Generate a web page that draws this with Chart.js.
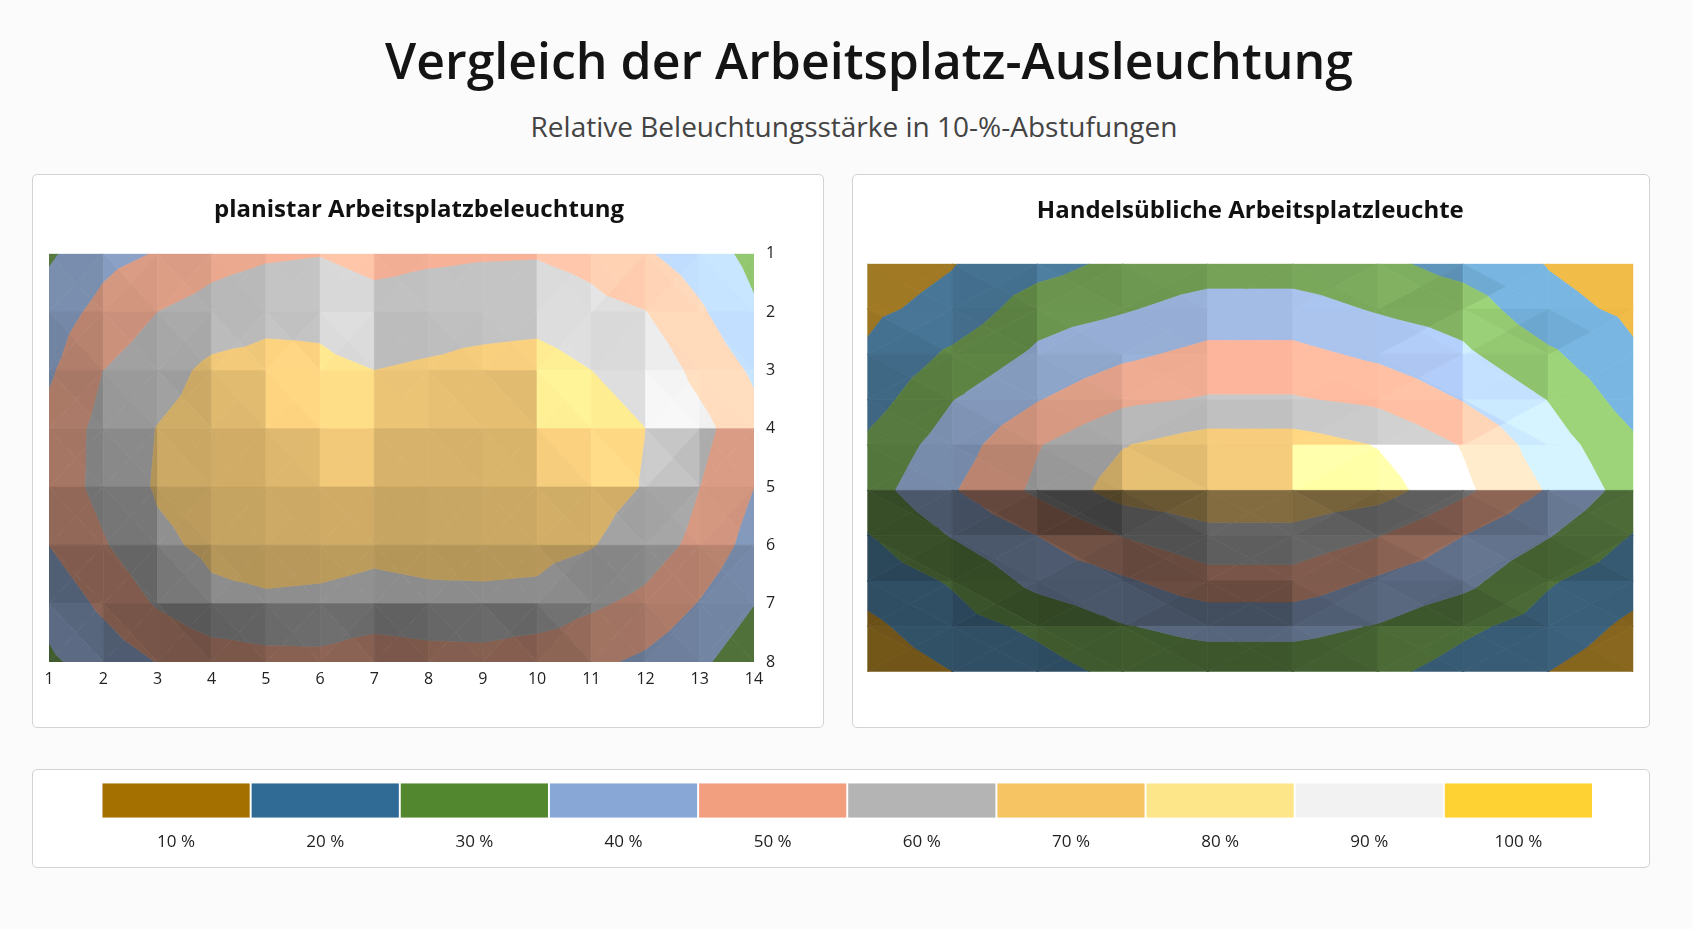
<!DOCTYPE html>
<html lang="de">
<head>
<meta charset="utf-8">
<title>Vergleich der Arbeitsplatz-Ausleuchtung</title>
<script src="https://cdn.jsdelivr.net/npm/chart.js@4.4.1/dist/chart.umd.min.js"></script>
<style>
  html, body { margin: 0; padding: 0; background: #fbfbfb; }
  body { width: 1693px; height: 929px; position: relative; overflow: hidden; font-family: "Open Sans", sans-serif; }
  .head { position: absolute; white-space: nowrap; transform: translateX(-50%); line-height: 1; }
  #mainTitle { left: 869px; top: 35px; font-size: 50px; font-weight: 600; color: #141414; }
  #subTitle { left: 854px; top: 112px; font-size: 28px; font-weight: 400; color: #444; }
  .panel { position: absolute; background: #fff; border: 1.5px solid #d3d3d3; border-radius: 5px; box-sizing: border-box; }
  canvas { position: absolute; }
</style>
</head>
<body>
<div id="mainTitle" class="head">Vergleich der Arbeitsplatz-Ausleuchtung</div>
<div id="subTitle" class="head">Relative Beleuchtungsstärke in 10-%-Abstufungen</div>

<div class="panel" style="left:32px; top:174px; width:792px; height:554px;"></div>
<div class="panel" style="left:852px; top:174px; width:798px; height:554px;"></div>
<div class="panel" style="left:32px; top:769px; width:1618px; height:99px;"></div>

<canvas id="planistar" width="792" height="554" style="left:32px; top:174px;"></canvas>
<canvas id="handel" width="798" height="554" style="left:852px; top:174px;"></canvas>
<canvas id="legend" width="1618" height="99" style="left:32px; top:769px;"></canvas>

<script>
// bands, 10 % steps
const bandLabels = ['10 %', '20 %', '30 %', '40 %', '50 %', '60 %', '70 %', '80 %', '90 %', '100 %'];
const bandColors = ['#a47000', '#2f6b95', '#52872f', '#88a6d6', '#f29f80', '#b4b4b4', '#f6c462', '#fde68a', '#f2f2f2', '#fdd232'];

// planistar: 14 measuring points across, 8 rows
const planistarX = [1, 2, 3, 4, 5, 6, 7, 8, 9, 10, 11, 12, 13, 14];
const planistarY = [1, 2, 3, 4, 5, 6, 7, 8];
const planistarValues = [
  [28.5, 37, 40.5, 46, 48.5, 49.5, 46, 48, 49, 49.3, 47, 41, 35, 27],
  [35, 43, 50, 54, 57.3, 58, 54.7, 55.7, 56, 56, 52.8, 50.2, 41.4, 31.3],
  [38.5, 50, 56, 62.2, 63.2, 61.7, 60, 61.2, 63.1, 64.7, 60, 57, 47, 38.5],
  [43, 53, 60.3, 64, 66, 65.5, 64, 65, 66, 66, 63, 60, 53, 43],
  [44, 53, 61, 64, 66, 66, 64.5, 65.5, 66, 65.5, 63.5, 59.5, 50, 40],
  [40, 49, 58, 62, 64, 63.5, 62, 63, 63.5, 63, 60.5, 55, 47, 36],
  [33, 42, 51, 57.7, 58.6, 58.1, 56.9, 57.8, 57.8, 57.3, 51.5, 47.4, 39.4, 30.2],
  [28.5, 34, 40.3, 44.2, 46.5, 47, 43.4, 45.4, 46, 43, 42, 38, 32, 23]
];

// handelsuebliche Leuchte: 10 x 10 points
const handelX = [1, 2, 3, 4, 5, 6, 7, 8, 9, 10];
const handelY = [1, 2, 3, 4, 5, 6, 7, 8, 9, 10];
const handelValues = [
  [5, 9.5, 16, 22.5, 25, 25, 22.5, 16, 9.5, 5],
  [8, 13, 25.5, 29, 34, 34, 29, 25.5, 13, 8],
  [11.2, 21.8, 31.8, 38, 42.7, 42.7, 38, 31.8, 21.8, 11.2],
  [15.3, 29.7, 39.5, 47.8, 50.9, 50.9, 47.8, 39.5, 29.7, 15.3],
  [22, 34.9, 49.3, 59.5, 65, 65, 59.5, 49.3, 34.9, 22],
  [25.5, 39.1, 52, 64.5, 67, 67, 64.5, 52, 39.1, 25.5],
  [19.5, 30.6, 40, 50.3, 57, 57, 50.3, 40, 30.6, 19.5],
  [14, 21, 33, 38.5, 46, 46, 38.5, 33, 21, 14],
  [7.75, 16, 22, 29.4, 33, 33, 29.4, 22, 16, 7.75],
  [4, 10, 16, 22.5, 24, 24, 22.5, 16, 10, 4]
];

// lighting of the surface facets (light from upper right)
const LIGHT = norm([0.35, -0.55, 1]);
const SHINE_DIR = norm([0.4, -0.15, 1]);
const Z_SCALE = 3, SHINE = 25, WHITEN = 0.6, MAX_LIGHT = 1.45;

function norm(v) {
  const l = Math.hypot(v[0], v[1], v[2]);
  return [v[0] / l, v[1] / l, v[2] / l];
}

function hexRgb(h) {
  return [parseInt(h.slice(1, 3), 16), parseInt(h.slice(3, 5), 16), parseInt(h.slice(5, 7), 16)];
}

function facetLight(gx, gy, spec) {
  const n = norm([-gx * Z_SCALE, -gy * Z_SCALE, 1]);
  const d = Math.max(0, n[0] * LIGHT[0] + n[1] * LIGHT[1] + n[2] * LIGHT[2]) / LIGHT[2];
  const h = Math.max(0, n[0] * SHINE_DIR[0] + n[1] * SHINE_DIR[1] + n[2] * SHINE_DIR[2]);
  const s = Math.max(0, Math.pow(h, SHINE) - Math.pow(SHINE_DIR[2], SHINE));
  let f = d + spec * s;
  if (f < 1) f = 1 - (1 - f) * 0.85;
  return Math.min(MAX_LIGHT, f);
}

// matt surface: colours are a little greyed, lit facets get their colour back
function litColor(hex, f) {
  const raw = hexRgb(hex);
  const back = Math.max(0, Math.min(1, (f - 1) * 2));
  let c = raw.map(x => {
    const matt = 0.74 * x + 34;
    return Math.min(255, (matt + (x - matt) * back) * f);
  });
  if (f > 1) {
    const t = Math.min(1, (f - 1) * WHITEN);
    c = c.map(x => x + (255 - x) * t);
  }
  return 'rgb(' + c.map(x => Math.round(x)).join(',') + ')';
}

// keep the part of a polygon where fn(value) >= 0
function clipPoly(poly, fn) {
  const out = [];
  for (let i = 0; i < poly.length; i++) {
    const p = poly[i], q = poly[(i + 1) % poly.length];
    const fp = fn(p.v), fq = fn(q.v);
    if (fp >= 0) out.push(p);
    if ((fp >= 0) !== (fq >= 0)) {
      const t = fp / (fp - fq);
      out.push({x: p.x + (q.x - p.x) * t, y: p.y + (q.y - p.y) * t, v: p.v + (q.v - p.v) * t});
    }
  }
  return out;
}

// one triangle of a cell, shaded from a mix of its own slope and the cell slope
function drawFacet(ctx, tri, cellG, spec) {
  const [a, b, c] = tri;
  const dx1 = b.x - a.x, dy1 = b.y - a.y, dv1 = b.v - a.v;
  const dx2 = c.x - a.x, dy2 = c.y - a.y, dv2 = c.v - a.v;
  const det = dx1 * dy2 - dx2 * dy1;
  if (Math.abs(det) < 1e-6) return;
  const gx = (dv1 * dy2 - dv2 * dy1) / det;
  const gy = (dx1 * dv2 - dx2 * dv1) / det;
  const f = facetLight(0.35 * gx + 0.65 * cellG[0], 0.35 * gy + 0.65 * cellG[1], spec);
  const vmin = Math.min(a.v, b.v, c.v), vmax = Math.max(a.v, b.v, c.v);
  for (let k = Math.floor(vmin / 10); k <= Math.floor(vmax / 10); k++) {
    const lo = k * 10, hi = lo + 10;
    let poly = clipPoly(tri, v => v - lo);
    poly = clipPoly(poly, v => hi - v);
    if (poly.length < 3) continue;
    const col = litColor(bandColors[Math.max(0, Math.min(9, k))], f);
    ctx.beginPath();
    ctx.moveTo(poly[0].x, poly[0].y);
    for (let i = 1; i < poly.length; i++) ctx.lineTo(poly[i].x, poly[i].y);
    ctx.closePath();
    ctx.fillStyle = col;
    ctx.strokeStyle = col;
    ctx.fill();
    ctx.stroke();
  }
}

const contourPlugin = {
  id: 'contourFill',
  beforeDatasetsDraw(chart, args, opts) {
    const grid = opts.values, xv = opts.xs, yv = opts.ys;
    const sx = chart.scales.x, sy = chart.scales.y;
    const ctx = chart.ctx, area = chart.chartArea;
    ctx.save();
    ctx.beginPath();
    ctx.rect(area.left, area.top, area.right - area.left, area.bottom - area.top);
    ctx.clip();
    ctx.lineWidth = 0.7;
    ctx.lineJoin = 'round';
    const pt = (r, c) => ({x: sx.getPixelForValue(xv[c]), y: sy.getPixelForValue(yv[r]), v: grid[r][c]});
    for (let r = 0; r < grid.length - 1; r++) {
      for (let c = 0; c < grid[r].length - 1; c++) {
        const a = pt(r, c), b = pt(r, c + 1), d = pt(r + 1, c + 1), e = pt(r + 1, c);
        const m = {x: (a.x + d.x) / 2, y: (a.y + d.y) / 2, v: (a.v + b.v + d.v + e.v) / 4};
        const cellG = [
          ((b.v - a.v) + (d.v - e.v)) / 2 / (b.x - a.x),
          ((e.v - a.v) + (d.v - b.v)) / 2 / (e.y - a.y)
        ];
        drawFacet(ctx, [a, b, m], cellG, opts.spec);
        drawFacet(ctx, [b, d, m], cellG, opts.spec);
        drawFacet(ctx, [d, e, m], cellG, opts.spec);
        drawFacet(ctx, [e, a, m], cellG, opts.spec);
      }
    }
    ctx.restore();
  }
};

function gridPoints(xs, ys) {
  const pts = [];
  ys.forEach(y => xs.forEach(x => pts.push({x: x, y: y})));
  return pts;
}

const tickFont = {family: 'Open Sans', size: 16};
const panelTitleFont = {family: 'Open Sans', size: 24, weight: 'bold'};

new Chart(document.getElementById('planistar'), {
  type: 'scatter',
  data: {datasets: [{data: gridPoints(planistarX, planistarY), pointRadius: 0, pointHoverRadius: 0}]},
  plugins: [contourPlugin],
  options: {
    responsive: false,
    animation: false,
    events: [],
    layout: {padding: {left: 17, right: 35, top: 0, bottom: 0}},
    plugins: {
      legend: {display: false},
      tooltip: {enabled: false},
      title: {display: true, text: 'planistar Arbeitsplatzbeleuchtung', color: '#111', font: panelTitleFont, padding: {top: 22, bottom: 29}},
      contourFill: {values: planistarValues, xs: planistarX, ys: planistarY, spec: 0.3}
    },
    scales: {
      x: {
        type: 'linear', min: 1, max: 14,
        grid: {display: false, drawTicks: false},
        border: {display: false},
        ticks: {stepSize: 1, autoSkip: false, maxRotation: 0, color: '#222', font: tickFont, padding: 8},
        afterFit: s => { s.height = 66; }
      },
      y: {
        type: 'linear', position: 'right', reverse: true, min: 1, max: 8,
        grid: {display: false, drawTicks: false},
        border: {display: false},
        ticks: {stepSize: 1, autoSkip: false, color: '#222', font: tickFont, padding: 12},
        afterFit: s => { s.width = 35; }
      }
    }
  }
});

new Chart(document.getElementById('handel'), {
  type: 'scatter',
  data: {datasets: [{data: gridPoints(handelX, handelY), pointRadius: 0, pointHoverRadius: 0}]},
  plugins: [contourPlugin],
  options: {
    responsive: false,
    animation: false,
    events: [],
    layout: {padding: {left: 15.3, right: 16.7, top: 0, bottom: 56.3}},
    plugins: {
      legend: {display: false},
      tooltip: {enabled: false},
      title: {display: true, text: 'Handelsübliche Arbeitsplatzleuchte', color: '#111', font: panelTitleFont, padding: {top: 23, bottom: 38}},
      contourFill: {values: handelValues, xs: handelX, ys: handelY, spec: 0.9}
    },
    scales: {
      x: {type: 'linear', min: 1, max: 10, display: false},
      y: {type: 'linear', min: 1, max: 10, reverse: true, display: false}
    }
  }
});

new Chart(document.getElementById('legend'), {
  type: 'bar',
  data: {
    labels: bandLabels,
    datasets: [{data: bandLabels.map(() => 1), backgroundColor: bandColors, borderWidth: 0, barPercentage: 1, categoryPercentage: 0.987}]
  },
  options: {
    responsive: false,
    animation: false,
    events: [],
    layout: {padding: {left: 69.5, right: 57, top: 14.3, bottom: 0}},
    plugins: {legend: {display: false}, tooltip: {enabled: false}},
    scales: {
      x: {
        grid: {display: false, drawTicks: false},
        border: {display: false},
        ticks: {color: '#222', font: {family: 'Open Sans', size: 17}, padding: 14},
        afterFit: s => { s.height = 50.3; }
      },
      y: {display: false, min: 0, max: 1}
    }
  }
});
</script>
</body>
</html>
